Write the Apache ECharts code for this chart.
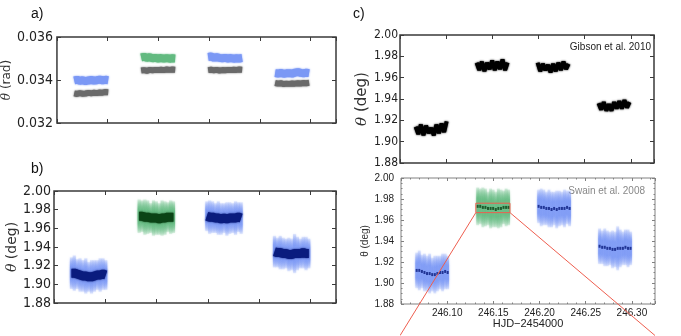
<!DOCTYPE html>
<html>
<head>
<meta charset="utf-8">
<script src="https://cdn.jsdelivr.net/npm/echarts@6/dist/echarts.min.js"></script>
<style>
html, body { margin: 0; background: #fff; }
#main { width: 681px; height: 336px; }
</style>
</head>
<body>
<div id="main"></div>
<script>
// exposure times of the four visits, HJD-2454000
var hjd = [
    [246.0670, 246.0698, 246.0726, 246.0754, 246.0782, 246.0810, 246.0838, 246.0866, 246.0894, 246.0922, 246.0950, 246.0978, 246.1005],
    [246.1330, 246.1358, 246.1386, 246.1414, 246.1442, 246.1470, 246.1498, 246.1526, 246.1554, 246.1582, 246.1610, 246.1638, 246.1665],
    [246.1990, 246.2018, 246.2046, 246.2074, 246.2102, 246.2130, 246.2158, 246.2186, 246.2214, 246.2242, 246.2270, 246.2298, 246.2325],
    [246.2650, 246.2678, 246.2706, 246.2734, 246.2762, 246.2790, 246.2818, 246.2846, 246.2874, 246.2902, 246.2930, 246.2958, 246.2985]
];

// a) angle in radians, fitted and reference
var radTheta = [
    [0.03398, 0.03401, 0.03396, 0.03399, 0.03395, 0.03398, 0.03400, 0.03397, 0.03399, 0.03402, 0.03398, 0.03401, 0.03399],
    [0.03505, 0.03508, 0.03503, 0.03506, 0.03501, 0.03503, 0.03500, 0.03502, 0.03499, 0.03502, 0.03499, 0.03501, 0.03500],
    [0.03507, 0.03509, 0.03504, 0.03506, 0.03503, 0.03501, 0.03503, 0.03500, 0.03502, 0.03499, 0.03501, 0.03500, 0.03502],
    [0.03432, 0.03430, 0.03433, 0.03429, 0.03431, 0.03432, 0.03430, 0.03434, 0.03437, 0.03433, 0.03431, 0.03434, 0.03432]
];
var radRef = [
    [0.03338, 0.03335, 0.03339, 0.03336, 0.03337, 0.03340, 0.03338, 0.03341, 0.03339, 0.03342, 0.03341, 0.03344, 0.03343],
    [0.03444, 0.03446, 0.03443, 0.03447, 0.03445, 0.03447, 0.03446, 0.03448, 0.03446, 0.03449, 0.03447, 0.03449, 0.03448],
    [0.03446, 0.03448, 0.03445, 0.03447, 0.03444, 0.03446, 0.03445, 0.03447, 0.03446, 0.03448, 0.03447, 0.03449, 0.03448],
    [0.03386, 0.03383, 0.03385, 0.03381, 0.03383, 0.03382, 0.03384, 0.03383, 0.03385, 0.03384, 0.03386, 0.03385, 0.03387]
];

// b) and c) lower: Swain et al. 2008, angle in degrees and its spread
var swainTheta = [
    [1.912, 1.912, 1.911, 1.910, 1.909, 1.909, 1.908, 1.908, 1.909, 1.910, 1.910, 1.911, 1.910],
    [1.973, 1.973, 1.972, 1.972, 1.971, 1.971, 1.971, 1.970, 1.971, 1.971, 1.972, 1.972, 1.972],
    [1.973, 1.972, 1.972, 1.971, 1.971, 1.970, 1.971, 1.970, 1.971, 1.971, 1.971, 1.972, 1.971],
    [1.935, 1.934, 1.934, 1.933, 1.933, 1.932, 1.932, 1.933, 1.933, 1.933, 1.934, 1.933, 1.933]
];
var swainErr = [
    [0.017, 0.019, 0.016, 0.018, 0.017, 0.019, 0.016, 0.018, 0.017, 0.016, 0.018, 0.017, 0.016],
    [0.018, 0.017, 0.019, 0.018, 0.016, 0.019, 0.018, 0.017, 0.019, 0.018, 0.016, 0.018, 0.017],
    [0.016, 0.018, 0.017, 0.016, 0.018, 0.017, 0.016, 0.018, 0.017, 0.016, 0.018, 0.016, 0.017],
    [0.017, 0.016, 0.018, 0.017, 0.016, 0.018, 0.017, 0.021, 0.018, 0.016, 0.017, 0.018, 0.016]
];

// c) upper: Gibson et al. 2010
var gibsonTheta = [
    [1.914, 1.907, 1.916, 1.906, 1.915, 1.908, 1.913, 1.906, 1.916, 1.908, 1.917, 1.909, 1.919],
    [1.974, 1.967, 1.975, 1.966, 1.974, 1.968, 1.976, 1.967, 1.975, 1.968, 1.977, 1.967, 1.974],
    [1.974, 1.966, 1.973, 1.967, 1.972, 1.965, 1.973, 1.966, 1.974, 1.967, 1.975, 1.968, 1.973],
    [1.936, 1.930, 1.937, 1.929, 1.935, 1.929, 1.937, 1.931, 1.938, 1.931, 1.939, 1.932, 1.937]
];

// zoom box on the second visit and where its leader lines end
var zoomHjd = [246.131, 246.168];
var zoomTheta = [1.967, 1.976];
var leaderHjd = [246.049, 246.325];
var leaderTheta = 1.85;

var hjdRange = [246.05, 246.325];

var NARROW = "'Liberation Sans Narrow','DejaVu Sans Condensed',sans-serif";
var SANS = "'Liberation Sans',Arial,sans-serif";
var BLUE = '#7b98f5', GREEN = '#62ba80', NAVY = '#0a1c7e', DKGREEN = '#0b4416', RED = '#ee5e4f';

var chart = echarts.init(document.getElementById('main'));

// layout of the four boxes
var panels = [
    {grid: {left: 54, top: 37, width: 282, height: 86}, border: '#3a3a3a', tick: 4,
     y: [0.032, 0.036, 0.002], digits: 3, name: '{i|θ} (rad)', nameGap: 30, nameSize: 12,
     font: NARROW, size: 14, margin: 4},
    {grid: {left: 54, top: 191, width: 282, height: 112}, border: '#3a3a3a', tick: 4,
     y: [1.88, 2.00, 0.02], digits: 2, name: '{i|θ} (deg)', nameGap: 27, nameSize: 14,
     font: NARROW, size: 14, margin: 3},
    {grid: {left: 400, top: 35, width: 254, height: 128}, border: '#3a3a3a', tick: 4,
     y: [1.88, 2.00, 0.02], digits: 2, name: '{i|θ} (deg)', nameGap: 23, nameSize: 15,
     font: NARROW, size: 12, margin: 2},
    {grid: {left: 401, top: 178, width: 254, height: 126}, border: '#808080', tick: 3, minor: true,
     y: [1.88, 2.00, 0.02], digits: 2, name: 'θ (deg)', nameGap: 27, nameSize: 10,
     font: SANS, size: 10, margin: 7, xLabels: true}
];

var grids = [], xAxes = [], yAxes = [];
panels.forEach(function (p, k) {
    grids.push(Object.assign({show: true, borderColor: p.border, borderWidth: p.minor ? 1 : 1.5}, p.grid));
    var tickStyle = {inside: true, length: p.tick, lineStyle: {color: p.border}};
    ['bottom', 'top'].forEach(function (pos) {
        var ax = {
            type: 'value', gridIndex: k, position: pos, min: hjdRange[0], max: hjdRange[1], interval: 0.05,
            splitLine: {show: false}, axisLine: {show: false}, axisTick: tickStyle,
            minorTick: {show: !!p.minor, splitNumber: 5, length: 1.5, lineStyle: {color: p.border}},
            axisLabel: {show: false}
        };
        if (pos === 'bottom' && p.xLabels) {
            ax.axisLabel = {
                show: true, showMinLabel: false, showMaxLabel: false, margin: 4,
                fontFamily: SANS, fontSize: 10, color: '#222',
                formatter: function (v) { return v.toFixed(2); }
            };
            ax.name = 'HJD\u22122454000';
            ax.nameLocation = 'middle';
            ax.nameGap = 13;
            ax.nameTextStyle = {fontFamily: SANS, fontSize: 11, color: '#222'};
        }
        xAxes.push(ax);
    });
    ['left', 'right'].forEach(function (pos) {
        var ax = {
            type: 'value', gridIndex: k, position: pos, min: p.y[0], max: p.y[1], interval: p.y[2],
            splitLine: {show: false}, axisLine: {show: false}, axisTick: tickStyle,
            minorTick: {show: !!p.minor, splitNumber: 4, length: 1.5, lineStyle: {color: p.border}},
            axisLabel: {show: false}
        };
        if (pos === 'left') {
            ax.axisLabel = {
                show: true, margin: p.margin, fontFamily: p.font, fontSize: p.size, color: '#222',
                formatter: function (v) { return v.toFixed(p.digits); }
            };
            ax.name = p.name;
            ax.nameLocation = 'middle';
            ax.nameGap = p.nameGap;
            ax.nameTextStyle = {
                fontFamily: p.minor ? SANS : "'DejaVu Sans',sans-serif", fontSize: p.nameSize, color: '#333',
                rich: {i: {fontStyle: 'italic', fontFamily: "'DejaVu Serif',serif", fontSize: p.nameSize, color: '#333'}}
            };
        }
        yAxes.push(ax);
    });
});

function pts(g, vals) {
    return hjd[g].map(function (t, i) { return [t, vals[g][i]]; });
}

function line(axis, data, color, width) {
    return {
        type: 'line', xAxisIndex: axis, yAxisIndex: axis, data: data, symbol: 'none', silent: true,
        lineStyle: {color: color, width: width, shadowBlur: 2, shadowColor: color}
    };
}

function fade(color) {
    var c = echarts.color.modifyAlpha(color, 0.2);
    return {type: 'linear', x: 0, y: 0, x2: 0, y2: 1, colorStops: [
        {offset: 0, color: c}, {offset: 0.3, color: color}, {offset: 0.7, color: color}, {offset: 1, color: c}]};
}

// spread of the Swain points drawn as soft vertical streaks
function cloud(axis, g, color) {
    return {
        type: 'custom', xAxisIndex: axis, yAxisIndex: axis, silent: true,
        data: hjd[g].map(function (t, i) { return [t, swainTheta[g][i], swainErr[g][i]]; }),
        encode: {x: 0, y: 1},
        renderItem: function (params, api) {
            var t = api.value(0), m = api.value(1), e = api.value(2);
            var hi = api.coord([t, m + e]), lo = api.coord([t, m - e]);
            var w = api.size([0.0028, 0])[0] * 1.1;
            return {
                type: 'rect',
                shape: {x: hi[0] - w / 2, y: hi[1], width: w, height: lo[1] - hi[1]},
                style: {fill: fade(color), opacity: 0.8, shadowBlur: 2, shadowColor: color}
            };
        }
    };
}

var series = [];
for (var g = 0; g < 4; g++) {
    var light = g === 1 ? GREEN : BLUE;
    var dark = g === 1 ? DKGREEN : NAVY;
    series.push(line(0, pts(g, radTheta), light, 8));
    series.push(line(0, pts(g, radRef), '#6a6a6a', 6));
    series.push(cloud(2, g, light));
    series.push(line(2, pts(g, swainTheta), dark, 9));
    series.push(line(4, pts(g, gibsonTheta), '#000', 4));
    series.push(cloud(6, g, light));
    series.push({
        type: 'scatter', xAxisIndex: 6, yAxisIndex: 6, data: pts(g, swainTheta), silent: true,
        symbol: 'rect', symbolSize: [2, 3], itemStyle: {color: dark}
    });
}

// zoom box and leader lines in the lower c) panel
var redLine = {color: RED, width: 1};
series.push({
    type: 'line', xAxisIndex: 6, yAxisIndex: 6, symbol: 'none', silent: true, clip: false, lineStyle: redLine,
    data: [[zoomHjd[0], zoomTheta[0]], [zoomHjd[1], zoomTheta[0]], [zoomHjd[1], zoomTheta[1]],
           [zoomHjd[0], zoomTheta[1]], [zoomHjd[0], zoomTheta[0]]]
});
series.push({
    type: 'line', xAxisIndex: 6, yAxisIndex: 6, symbol: 'none', silent: true, clip: false, lineStyle: redLine,
    data: [[zoomHjd[0], zoomTheta[0]], [leaderHjd[0], leaderTheta]]
});
series.push({
    type: 'line', xAxisIndex: 6, yAxisIndex: 6, symbol: 'none', silent: true, clip: false, lineStyle: redLine,
    data: [[zoomHjd[1], zoomTheta[0]], [leaderHjd[1], leaderTheta]]
});

var option = {
    animation: false,
    grid: grids,
    xAxis: xAxes,
    yAxis: yAxes,
    series: series,
    graphic: [
        {type: 'text', left: 31, top: 7, style: {text: 'a)', font: '14px ' + SANS, fill: '#111'}},
        {type: 'text', left: 31, top: 162, style: {text: 'b)', font: '14px ' + SANS, fill: '#111'}},
        {type: 'text', left: 353, top: 7, style: {text: 'c)', font: '14px ' + SANS, fill: '#111'}},
        {type: 'text', right: 30, top: 42, style: {text: 'Gibson et al. 2010', font: '10px ' + SANS, fill: '#222'}},
        {type: 'text', right: 36, top: 186, style: {text: 'Swain et al. 2008', font: '10px ' + SANS, fill: '#888'}}
    ]
};

chart.setOption(option);
</script>
</body>
</html>
